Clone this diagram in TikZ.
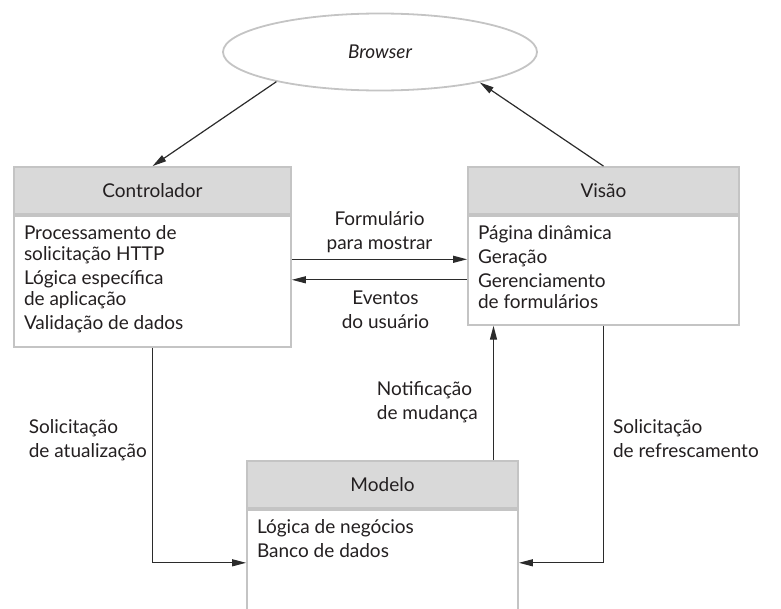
\documentclass[tikz,border=0pt]{standalone}
\usepackage{fontspec}
\setmainfont{Lato}
\usetikzlibrary{positioning,shapes.geometric,arrows.meta}
\definecolor{cinza}{HTML}{C4C4C4}
\definecolor{cinzaclaro}{HTML}{D9D9D9}
\definecolor{texto}{HTML}{231F20}
\definecolor{traco}{HTML}{2B2B2B}
\newcommand{\conteudo}[3]{\parbox[c][#1][t]{#2}{\raggedright\vspace*{7pt}\strut #3}}
\begin{document}
\begin{tikzpicture}[x=1pt, y=-1pt, font=\fontsize{19}{24}\selectfont, text=texto,
  caixa/.style={draw=cinza, line width=1.8pt},
  cabeca/.style={caixa, fill=cinzaclaro, minimum height=47pt, inner sep=0pt},
  corpo/.style={caixa, fill=white, inner xsep=10pt, inner ysep=0pt},
  seta/.style={draw=traco, line width=1.2pt, -{Triangle[length=14pt,width=7pt]}},
  rotulo/.style={inner sep=2pt, align=left}]
\useasboundingbox (0,0) rectangle (781,608);
% navegador
\node[caixa, ellipse, minimum width=314pt, minimum height=77pt] (browser) at (380,52) {\itshape Browser};
% controlador
\node[cabeca, minimum width=277pt] (ctrl) at (152.5,190.5) {Controlador};
\node[corpo, below=0pt of ctrl] (ctrlbody) {\conteudo{131pt}{257pt}{Processamento de\\[-3pt]solicitação HTTP\\Lógica específica\\[-3pt]de aplicação\\Validação de dados}};
% visao
\node[cabeca, minimum width=271pt] (vis) at (603.5,190.5) {Visão};
\node[corpo, below=0pt of vis] (visbody) {\conteudo{109pt}{251pt}{Página dinâmica\\Geração\\Gerenciamento\\[-3pt]de formulários}};
% modelo
\node[cabeca, minimum width=271pt] (mod) at (382.5,484.5) {Modelo};
\node[corpo, below=0pt of mod] (modbody) {\conteudo{106pt}{251pt}{Lógica de negócios\\Banco de dados}};
% setas
\draw[seta] (browser.196) -- (ctrl.north);
\draw[seta] (vis.north) -- (browser.-17);
\coordinate (fm) at ([yshift=22pt]ctrlbody.east);
\coordinate (ev) at ([yshift=1.5pt]ctrlbody.east);
\draw[seta] (fm) -- (fm -| visbody.west) node[rotulo, align=center, midway, above=4pt] {Formulário\\para mostrar};
\draw[seta] (ev -| visbody.west) -- (ev) node[rotulo, align=center, midway, below=8pt, xshift=6pt] {Eventos\\do usuário};
\draw[seta] (ctrlbody.south) |- (modbody.west) node[rotulo, pos=0.214, left=3pt] {Solicitação\\de atualização};
\draw[seta] (visbody.south) |- (modbody.east) node[rotulo, pos=0.239, right=7pt] {Solicitação\\de refrescamento};
\coordinate (nt) at ([xshift=111pt]mod.north);
\draw[seta] (nt) -- (nt |- visbody.south) node[rotulo, pos=0.43, left=13pt] {Notificação\\de mudança};
\end{tikzpicture}
\end{document}
